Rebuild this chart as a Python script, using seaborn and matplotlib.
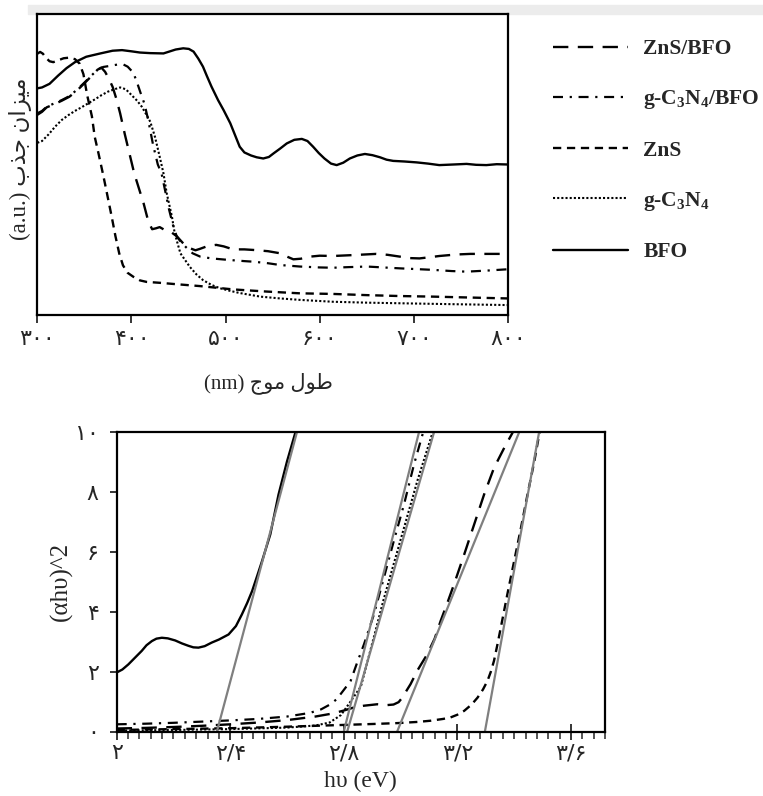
import numpy as np
import matplotlib
matplotlib.use("Agg")
import matplotlib.pyplot as plt
from matplotlib.patches import Rectangle
import seaborn as sns

# ---------------- data: UV-Vis absorbance (top panel) ----------------
bfo_nm = [300, 305, 313, 322, 331, 340, 352, 367, 380, 390, 400, 409, 420, 434, 440, 447, 455, 461,
          466, 471, 476, 480, 485, 492, 498, 505, 510, 515, 520, 527, 533, 540, 546, 551, 558, 565,
          573, 581, 587, 593, 599, 605, 612, 618, 625, 632, 640, 648, 656, 664, 671, 678, 690, 703,
          715, 727, 742, 756, 766, 777, 788, 800]
bfo_abs = [0.753, 0.756, 0.768, 0.795, 0.820, 0.840, 0.858, 0.869, 0.878, 0.880, 0.876, 0.872, 0.870,
           0.869, 0.875, 0.882, 0.886, 0.884, 0.875, 0.852, 0.825, 0.795, 0.759, 0.714, 0.680, 0.637,
           0.598, 0.559, 0.540, 0.530, 0.524, 0.520, 0.525, 0.537, 0.553, 0.570, 0.582, 0.585, 0.578,
           0.559, 0.538, 0.520, 0.503, 0.498, 0.506, 0.520, 0.530, 0.535, 0.531, 0.524, 0.516, 0.512,
           0.510, 0.507, 0.503, 0.498, 0.500, 0.502, 0.499, 0.498, 0.501, 0.500]

znsbfo_nm = [300, 305, 310, 318, 326, 334, 342, 350, 358, 364, 368, 372, 376, 380, 384, 388, 393, 398,
             403, 408, 413, 418, 422, 426, 430, 435, 441, 448, 455, 462, 468, 473, 480, 490, 498, 508,
             520, 530, 545, 558, 566, 572, 580, 590, 600, 614, 635, 660, 672, 685, 696, 706, 717, 727,
             745, 760, 800]
znsbfo_abs = [0.665, 0.675, 0.690, 0.700, 0.712, 0.725, 0.745, 0.770, 0.795, 0.815, 0.822, 0.808,
              0.785, 0.758, 0.718, 0.670, 0.600, 0.535, 0.470, 0.420, 0.370, 0.310, 0.285, 0.288,
              0.292, 0.283, 0.278, 0.262, 0.238, 0.222, 0.215, 0.220, 0.228, 0.233, 0.228, 0.218,
              0.218, 0.216, 0.212, 0.205, 0.193, 0.185, 0.187, 0.194, 0.197, 0.196, 0.199, 0.203,
              0.200, 0.194, 0.189, 0.188, 0.192, 0.196, 0.201, 0.203, 0.203]

gcnbfo_nm = [300, 305, 310, 318, 326, 334, 342, 350, 358, 364, 370, 378, 385, 391, 396, 402, 406, 410,
             414, 418, 423, 428, 432, 436, 440, 444, 448, 452, 458, 465, 473, 485, 503, 520, 530, 545,
             558, 579, 600, 614, 630, 650, 685, 720, 740, 756, 780, 800]
gcnbfo_abs = [0.670, 0.678, 0.692, 0.703, 0.714, 0.727, 0.748, 0.772, 0.797, 0.815, 0.824, 0.828,
              0.832, 0.833, 0.825, 0.805, 0.772, 0.735, 0.700, 0.645, 0.565, 0.500, 0.470, 0.410,
              0.350, 0.300, 0.262, 0.245, 0.225, 0.205, 0.194, 0.188, 0.183, 0.179, 0.177, 0.172,
              0.166, 0.161, 0.158, 0.157, 0.159, 0.161, 0.155, 0.150, 0.146, 0.144, 0.148, 0.152]

zns_nm = [300, 303, 306, 309, 313, 317, 322, 328, 334, 340, 345, 349, 353, 358, 361, 365, 370, 374, 379,
          383, 387, 391, 396, 402, 409, 416, 430, 445, 473, 508, 543, 579, 614, 650, 685, 721, 760, 800]
zns_abs = [0.868, 0.874, 0.868, 0.855, 0.843, 0.840, 0.846, 0.853, 0.855, 0.850, 0.835, 0.800, 0.730,
           0.660, 0.592, 0.537, 0.465, 0.404, 0.327, 0.262, 0.205, 0.165, 0.140, 0.127, 0.115, 0.110,
           0.107, 0.103, 0.096, 0.085, 0.078, 0.072, 0.070, 0.066, 0.063, 0.061, 0.058, 0.055]

gcn_nm = [300, 305, 312, 319, 326, 333, 340, 347, 355, 362, 368, 375, 382, 388, 394, 400, 406, 411, 416,
          420, 425, 430, 434, 437.5, 443, 446, 452, 458, 462, 469, 476, 485, 494, 505, 515, 537, 558,
          580, 614, 650, 685, 740, 800]
gcn_abs = [0.572, 0.578, 0.600, 0.626, 0.648, 0.664, 0.678, 0.690, 0.705, 0.718, 0.730, 0.742, 0.750,
           0.756, 0.750, 0.731, 0.712, 0.692, 0.665, 0.642, 0.592, 0.526, 0.471, 0.404, 0.327, 0.271,
           0.205, 0.178, 0.160, 0.135, 0.116, 0.100, 0.089, 0.080, 0.073, 0.061, 0.055, 0.050, 0.044,
           0.041, 0.039, 0.036, 0.033]

# ---------------- data: Tauc plot (bottom panel) ----------------
bfo_ev = [2.0, 2.02, 2.041, 2.065, 2.088, 2.105, 2.124, 2.14, 2.159, 2.18, 2.206, 2.23, 2.253, 2.27,
          2.288, 2.31, 2.335, 2.36, 2.394, 2.42, 2.441, 2.46, 2.477, 2.495, 2.512, 2.541, 2.570, 2.600,
          2.629, 2.64]
bfo_tauc = [1.97, 2.07, 2.24, 2.47, 2.69, 2.88, 3.02, 3.10, 3.13, 3.11, 3.04, 2.94, 2.86, 2.81, 2.80,
            2.85, 2.97, 3.07, 3.24, 3.52, 3.91, 4.30, 4.69, 5.20, 5.69, 6.58, 7.91, 9.02, 9.97, 10.4]

gcnbfo_ev = [2.0, 2.1, 2.2, 2.3, 2.4, 2.5, 2.6, 2.68, 2.72, 2.753, 2.775, 2.788, 2.805, 2.824, 2.847,
             2.871, 2.906, 2.941, 2.976, 3.012, 3.047, 3.077, 3.085]
gcnbfo_tauc = [0.24, 0.26, 0.29, 0.33, 0.37, 0.42, 0.50, 0.62, 0.74, 0.91, 1.08, 1.24, 1.45, 1.69, 2.30,
               2.91, 3.91, 5.13, 6.36, 7.58, 8.91, 9.91, 10.2]

gcn_ev = [2.0, 2.2, 2.4, 2.6, 2.7, 2.75, 2.79, 2.82, 2.86, 2.885, 2.91, 2.94, 2.97, 3.0, 3.03, 3.06,
          3.09, 3.12]
gcn_tauc = [0.03, 0.05, 0.08, 0.13, 0.20, 0.30, 0.55, 0.95, 1.50, 2.40, 3.30, 4.40, 5.40, 6.40, 7.40,
            8.40, 9.30, 10.2]

znsbfo_ev = [2.0, 2.1, 2.2, 2.3, 2.4, 2.5, 2.6, 2.7, 2.76, 2.8, 2.835, 2.87, 2.918, 2.95, 2.975, 2.993,
             3.006, 3.02, 3.035, 3.06, 3.094, 3.12, 3.141, 3.165, 3.188, 3.224, 3.259, 3.294, 3.329,
             3.365, 3.394, 3.40]
znsbfo_tauc = [0.10, 0.12, 0.15, 0.19, 0.24, 0.30, 0.38, 0.50, 0.60, 0.70, 0.80, 0.86, 0.91, 0.88,
               0.90, 0.98, 1.13, 1.35, 1.58, 2.05, 2.58, 3.10, 3.69, 4.30, 4.91, 5.91, 6.91, 7.91,
               8.80, 9.47, 9.97, 10.1]

zns_ev = [2.0, 2.2, 2.4, 2.6, 2.8, 2.9, 2.988, 3.06, 3.106, 3.15, 3.176, 3.2, 3.224, 3.25, 3.271, 3.29,
          3.306, 3.318, 3.329, 3.341, 3.353, 3.376, 3.4, 3.424, 3.447, 3.471, 3.488, 3.492]
zns_tauc = [0.05, 0.08, 0.11, 0.16, 0.22, 0.25, 0.28, 0.32, 0.36, 0.42, 0.47, 0.56, 0.69, 0.90, 1.13,
            1.40, 1.69, 2.00, 2.36, 2.90, 3.47, 4.58, 5.69, 6.80, 7.91, 9.02, 9.91, 10.1]

# tangent (band-gap extrapolation) lines: energy at y=0 and at y=10
tangent_e_low = [2.353, 2.800, 2.812, 2.988, 3.297]
tangent_e_high = [2.635, 3.065, 3.118, 3.418, 3.488]
tangent_y = [0, 10]

# tick labels
top_xticks = [300, 400, 500, 600, 700, 800]
top_xticklabels = ['۳۰۰', '۴۰۰', '۵۰۰', '۶۰۰', '۷۰۰', '۸۰۰']
bot_xticks = [2.0, 2.4, 2.8, 3.2, 3.6]
bot_xticklabels = ['۲', '۲/۴', '۲/۸', '۳/۲', '۳/۶']
bot_yticks = [0, 2, 4, 6, 8, 10]
bot_yticklabels = ['۰', '۲', '۴', '۶', '۸', '۱۰']

legend_labels = ['ZnS/BFO', 'g-C$_3$N$_4$/BFO', 'ZnS', 'g-C$_3$N$_4$', 'BFO']

# ---------------- minimal Persian shaping for display ----------------
FORMS = {
    'ا': ('\uFE8D', '\uFE8E', None, None),
    'ب': ('\uFE8F', '\uFE90', '\uFE91', '\uFE92'),
    'ج': ('\uFE9D', '\uFE9E', '\uFE9F', '\uFEA0'),
    'ذ': ('\uFEAB', '\uFEAC', None, None),
    'ز': ('\uFEAF', '\uFEB0', None, None),
    'ط': ('\uFEC1', '\uFEC2', '\uFEC3', '\uFEC4'),
    'ل': ('\uFEDD', '\uFEDE', '\uFEDF', '\uFEE0'),
    'م': ('\uFEE1', '\uFEE2', '\uFEE3', '\uFEE4'),
    'ن': ('\uFEE5', '\uFEE6', '\uFEE7', '\uFEE8'),
    'و': ('\uFEED', '\uFEEE', None, None),
    'ی': ('\uFBFC', '\uFBFD', '\uFEF3', '\uFEF4'),
}


def shape_word(w):
    out = []
    for i, c in enumerate(w):
        f = FORMS[c]
        prev = i > 0 and FORMS[w[i - 1]][2] is not None
        nxt = i < len(w) - 1 and f[2] is not None
        if prev and nxt:
            g = f[3]
        elif prev:
            g = f[1]
        elif nxt:
            g = f[2]
        else:
            g = f[0]
        out.append(g)
    return ''.join(reversed(out))


def rtl(text):
    toks = text.split(' ')
    shaped = [shape_word(t) if t and all(ch in FORMS for ch in t) else t for t in toks]
    return ' '.join(reversed(shaped))


# ---------------- style ----------------
sns.set_style('white')
plt.rcParams['font.family'] = ['Liberation Serif', 'DejaVu Sans']
plt.rcParams['mathtext.default'] = 'regular'
plt.rcParams['axes.linewidth'] = 1.6

fig = plt.figure(figsize=(7.63, 7.96), dpi=100)
fig.patches.append(Rectangle((28 / 763, 1 - 14 / 796), 1, 9 / 796, transform=fig.transFigure,
                             color='#ececec', zorder=-1))

ax1 = fig.add_axes([37.3 / 763, 1 - 315 / 796, (508 - 37.3) / 763, (315 - 14) / 796])
ax2 = fig.add_axes([116.7 / 763, 1 - 731.5 / 796, (605 - 116.7) / 763, (731.5 - 432) / 796])

styles = {
    'ZnS/BFO': dict(linestyle=(0, (6.5, 4.0)), linewidth=1.7),
    'g-C3N4/BFO': dict(linestyle=(0, (4.5, 3.0, 1.0, 3.0)), linewidth=1.6),
    'ZnS': dict(linestyle=(0, (3.5, 2.4)), linewidth=1.7),
    'g-C3N4': dict(linestyle=(0, (1.0, 1.0)), linewidth=1.5),
    'BFO': dict(linestyle='-', linewidth=1.7),
}

top_series = [('ZnS/BFO', znsbfo_nm, znsbfo_abs), ('g-C3N4/BFO', gcnbfo_nm, gcnbfo_abs),
              ('ZnS', zns_nm, zns_abs), ('g-C3N4', gcn_nm, gcn_abs), ('BFO', bfo_nm, bfo_abs)]
handles = []
for name, xs, ys in top_series:
    sns.lineplot(x=xs, y=ys, ax=ax1, color='black', estimator=None, **styles[name])
    handles.append(ax1.get_lines()[-1])

ax1.set_xlim(300, 800)
ax1.set_ylim(0, 1)
ax1.set_yticks([])
ax1.set_xticks(top_xticks)
ax1.set_xticklabels(top_xticklabels, fontfamily='DejaVu Sans', fontsize=16)
ax1.tick_params(axis='x', direction='out', length=6, width=1.3, pad=4, bottom=True)
ax1.set_xlabel(rtl('طول موج (nm)'), fontsize=15, family=['Liberation Serif', 'DejaVu Sans'])
ax1.xaxis.set_label_coords(0.49, -0.19)
ax1.set_ylabel(rtl('میزان جذب (a.u.)'), fontsize=16.5, family=['Liberation Serif', 'DejaVu Sans'])
ax1.yaxis.set_label_coords(-0.012, 0.52)
for sp in ax1.spines.values():
    sp.set_color('black')

leg = fig.legend(handles, legend_labels, loc='upper left',
                 bbox_to_anchor=(553 / 763, 1 - 39 / 796), frameon=False,
                 prop={'family': 'Liberation Serif', 'weight': 'bold', 'size': 15.5},
                 handlelength=3.5, handletextpad=0.7, labelspacing=1.36, borderpad=0,
                 borderaxespad=0)

# bottom panel
bot_series = [('BFO', bfo_ev, bfo_tauc), ('g-C3N4/BFO', gcnbfo_ev, gcnbfo_tauc),
              ('g-C3N4', gcn_ev, gcn_tauc), ('ZnS/BFO', znsbfo_ev, znsbfo_tauc),
              ('ZnS', zns_ev, zns_tauc)]
for name, xs, ys in bot_series:
    sns.lineplot(x=xs, y=ys, ax=ax2, color='black', estimator=None, **styles[name])

for e0, e1 in zip(tangent_e_low, tangent_e_high):
    sns.lineplot(x=[e0, e1], y=tangent_y, ax=ax2, color='#7f7f7f', linewidth=1.6,
                 estimator=None, sort=False)

ax2.set_xlim(2.0, 3.72)
ax2.set_ylim(0, 10)
ax2.set_xticks(bot_xticks)
ax2.set_xticks(np.arange(2.0, 3.72, 0.04), minor=True)
ax2.set_xticklabels(bot_xticklabels, fontfamily='DejaVu Sans', fontsize=16)
ax2.set_yticks(bot_yticks)
ax2.set_yticklabels(bot_yticklabels, fontfamily='DejaVu Sans', fontsize=16)
ax2.tick_params(axis='x', which='major', direction='inout', length=11, width=1.3, bottom=True, pad=3)
ax2.tick_params(axis='x', which='minor', direction='out', length=5, width=1.1, bottom=True)
ax2.tick_params(axis='y', which='major', direction='out', length=5, width=1.3, left=True, pad=8)
ax2.set_xlabel('hυ (eV)', fontsize=17, family='Liberation Serif')
ax2.xaxis.set_label_coords(0.5, -0.13)
ax2.set_ylabel('(αhυ)^2', fontsize=18, family='Liberation Serif')
ax2.yaxis.set_label_coords(-0.09, 0.5)
for sp in ax2.spines.values():
    sp.set_color('black')

fig.savefig('out.png', dpi=100)
